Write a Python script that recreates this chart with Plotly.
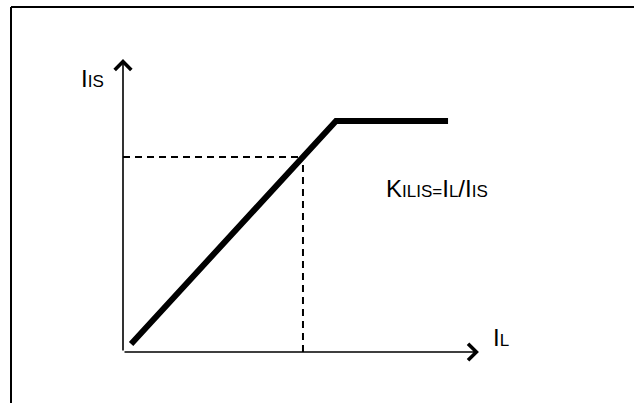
import plotly.graph_objects as go

# ---- data (schematic units: knee point = 1,1) ----
il_curve = [0.038, 1.0, 1.526]     # load current I_L
iis_curve = [0.035, 1.0, 1.0]      # sense current I_IS
il_op = 0.845                       # operating point I_L
iis_op = 0.844                      # operating point I_IS
x_axis_end = 1.671
y_axis_end = 1.268

label_y = "I<span style='font-size:17px'>IS</span>"
label_x = "I<span style='font-size:17px'>L</span>"
label_k = ("K<span style='font-size:17px'>ILIS</span>"
           "<span style='font-size:17px'>=</span>I<span style='font-size:17px'>L</span>"
           "/I<span style='font-size:17px'>IS</span>")

# ---- layout geometry (pixel mapping) ----
W, H = 634, 403
ox, oy = 123, 352          # origin in pixels
sx, sy = 213, 231          # pixels per unit
xr = [-ox / sx, (W - ox) / sx]
yr = [-(H - oy) / sy, oy / sy]

fig = go.Figure()

# main characteristic
fig.add_trace(go.Scatter(x=il_curve, y=iis_curve, mode="lines",
                         line=dict(color="black", width=6), hoverinfo="skip"))
# dashed guides
fig.add_trace(go.Scatter(x=[0, il_op], y=[iis_op, iis_op], mode="lines",
                         line=dict(color="black", width=2, dash="7px,5px"), hoverinfo="skip"))
fig.add_trace(go.Scatter(x=[il_op, il_op], y=[0, iis_op], mode="lines",
                         line=dict(color="black", width=2, dash="7px,5px"), hoverinfo="skip"))

# axes with open arrowheads
fig.add_annotation(x=x_axis_end, y=0, ax=0, ay=0, xref="x", yref="y", axref="x", ayref="y",
                   text="", showarrow=True, arrowhead=4, arrowsize=2, arrowwidth=1.6,
                   arrowcolor="black")
fig.add_annotation(x=0, y=y_axis_end, ax=0, ay=0, xref="x", yref="y", axref="x", ayref="y",
                   text="", showarrow=True, arrowhead=4, arrowsize=2, arrowwidth=1.6,
                   arrowcolor="black")

font = dict(family="Liberation Sans, Arial, sans-serif", size=24, color="black")
fig.add_annotation(x=-0.08, y=1.182, xref="x", yref="y", text=label_y, showarrow=False,
                   xanchor="right", yanchor="middle", font=font)
fig.add_annotation(x=1.728, y=0.061, xref="x", yref="y", text=label_x, showarrow=False,
                   xanchor="left", yanchor="middle", font=font)
fig.add_annotation(x=1.225, y=0.706, xref="x", yref="y", text=label_k, showarrow=False,
                   xanchor="left", yanchor="middle", font=font)

# frame (top and left edges)
fx = 11 / W
fy = 1 - 7 / H
fig.add_shape(type="line", xref="paper", yref="paper", x0=fx, x1=1, y0=fy, y1=fy,
              line=dict(color="black", width=2))
fig.add_shape(type="line", xref="paper", yref="paper", x0=fx, x1=fx, y0=0, y1=fy,
              line=dict(color="black", width=2))

fig.update_layout(
    width=W, height=H, margin=dict(l=0, r=0, t=0, b=0),
    paper_bgcolor="white", plot_bgcolor="white", showlegend=False,
    xaxis=dict(range=xr, visible=False, fixedrange=True),
    yaxis=dict(range=yr, visible=False, fixedrange=True),
)

fig.write_html("out.html", config={"displayModeBar": False},
               post_script="document.body.style.margin='0';document.body.style.overflow='hidden';")
